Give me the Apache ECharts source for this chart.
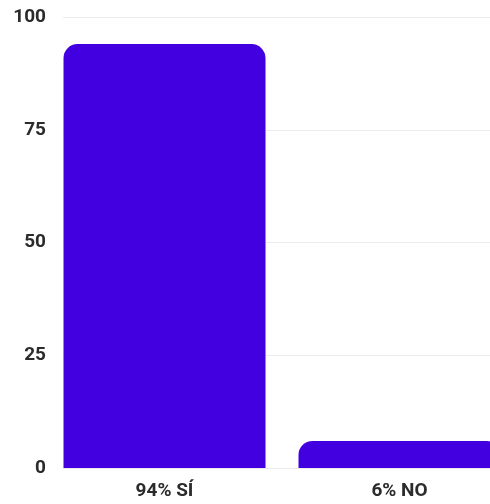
<!DOCTYPE html>
<html>
<head>
<meta charset="utf-8">
<script src="https://cdn.jsdelivr.net/npm/echarts@6/dist/echarts.min.js"></script>
<style>html,body{margin:0;padding:0;background:#fff;overflow:hidden;width:490px;height:504px;}#c{width:517px;height:504px;}</style>
</head>
<body>
<div id="c"></div>
<script>
var categories = ['94% SÍ', '6% NO'];
var values = [94, 6];
var yTicks = [0, 25, 50, 75, 100];

var chart = echarts.init(document.getElementById('c'));
chart.setOption({
  animation: false,
  grid: [
    {left: 47, top: 17, right: 0, bottom: 36},
    {left: 63, top: 17, right: 0, bottom: 36}
  ],
  xAxis: [
    {type: 'category', gridIndex: 0, data: categories,
     axisLine: {show: false}, axisTick: {show: false},
     axisLabel: {color: '#2b2b2b', fontFamily: 'Roboto', fontWeight: 'bold', fontSize: 19, margin: 14}},
    {type: 'category', gridIndex: 1, data: categories, show: false}
  ],
  yAxis: [
    {type: 'value', gridIndex: 0, min: yTicks[0], max: yTicks[yTicks.length - 1], interval: 25,
     splitLine: {show: false}, axisLine: {show: false}, axisTick: {show: false},
     axisLabel: {color: '#2b2b2b', fontFamily: 'Roboto', fontWeight: 'bold', fontSize: 19, margin: 1}},
    {type: 'value', gridIndex: 1, min: yTicks[0], max: yTicks[yTicks.length - 1], interval: 25,
     axisLabel: {show: false}, axisLine: {show: false}, axisTick: {show: false},
     splitLine: {show: true, lineStyle: {color: '#ececec', width: 1}}}
  ],
  series: [{
    type: 'bar', xAxisIndex: 0, yAxisIndex: 0,
    data: values, barWidth: 202,
    itemStyle: {color: '#4200e0', borderRadius: [14, 14, 0, 0]}
  }]
});
</script>
</body>
</html>
